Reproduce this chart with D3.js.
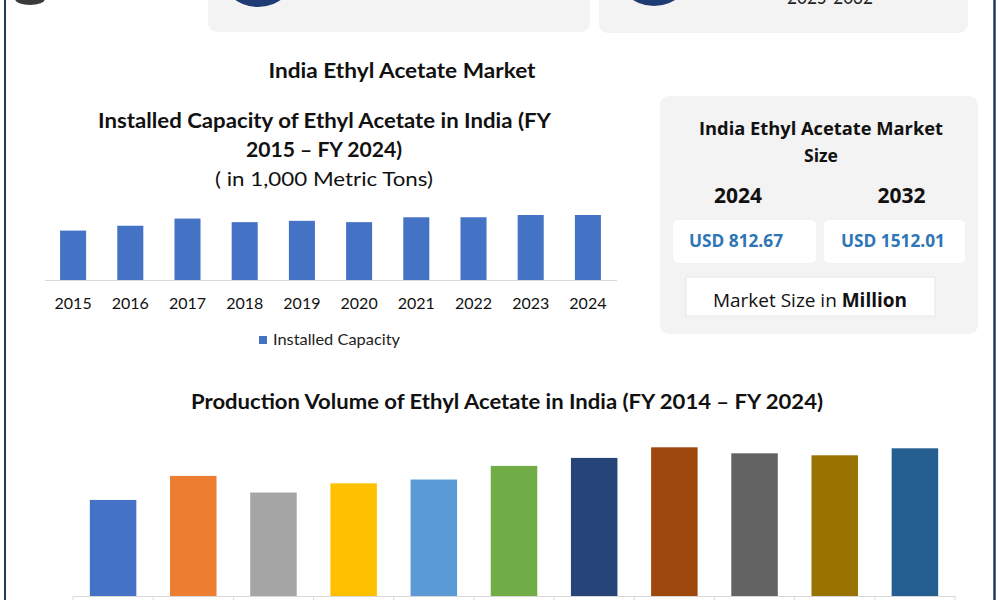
<!DOCTYPE html>
<html>
<head>
<script src="https://d3js.org/d3.v7.min.js"></script>
<style>
  body { margin: 0; background: #fff; }
  svg text { font-family: Lato, "Open Sans", sans-serif; fill: #111; }
</style>
</head>
<body>
<svg width="1000" height="600"></svg>
<script>

// installed capacity, 1,000 metric tons
const capYears = ["2015", "2016", "2017", "2018", "2019", "2020", "2021", "2022", "2023", "2024"];
const capValues = [760, 835, 945, 890, 910, 890, 965, 965, 1000, 1000];

// production volume (no axis in picture, relative heights)
const prodYears = ["2014", "2015", "2016", "2017", "2018", "2019", "2020", "2021", "2022", "2023", "2024"];
const prodValues = [480, 600, 517, 563, 582, 650, 690, 743, 713, 703, 738];
const prodColors = ["#4472c4", "#ed7d31", "#a5a5a5", "#ffc000", "#5b9bd5", "#70ad47",
                    "#264478", "#9e480e", "#636363", "#997300", "#255e91"];

const marketYears = ["2024", "2032"];
const marketValues = ["USD 812.67", "USD 1512.01"];

var svg = d3.select("svg");

function label(x, y, str, size, weight, len) {
  var t = svg.append("text")
      .attr("x", x)
      .attr("y", y)
      .attr("text-anchor", "middle")
      .style("font-size", size + "px")
      .style("font-weight", weight)
      .text(str);
  if (len) t.attr("textLength", len).attr("lengthAdjust", "spacingAndGlyphs");
  return t;
}

// header cards (cut off at top)
svg.append("rect").attr("x", 208).attr("y", -12).attr("width", 382).attr("height", 44)
    .attr("rx", 9).attr("fill", "#f3f3f3");
svg.append("rect").attr("x", 599).attr("y", -12).attr("width", 369).attr("height", 45)
    .attr("rx", 9).attr("fill", "#f3f3f3");
svg.append("circle").attr("cx", 258).attr("cy", -33).attr("r", 40).attr("fill", "#1f3b73");
svg.append("circle").attr("cx", 654).attr("cy", -34).attr("r", 40).attr("fill", "#1f3b73");
label(830, 4, "2025-2032", 20, 400, 86).style("fill", "#222");
svg.append("ellipse").attr("cx", 30).attr("cy", -1).attr("rx", 15).attr("ry", 6).attr("fill", "#3a3a3a");

// frame
svg.append("line").attr("x1", 5).attr("x2", 5).attr("y1", 0).attr("y2", 600)
    .attr("stroke", "#23395f").attr("stroke-width", 2);
svg.append("line").attr("x1", 994.5).attr("x2", 994.5).attr("y1", 0).attr("y2", 600)
    .attr("stroke", "#23395f").attr("stroke-width", 2.5);

label(402, 78, "India Ethyl Acetate Market", 20, 700, 267);

// ---- installed capacity chart ----
label(324.5, 128, "Installed Capacity of Ethyl Acetate in India (FY", 20, 700, 453);
label(324, 157, "2015 \u2013 FY 2024)", 20, 700, 156);
label(324, 186, "( in 1,000 Metric Tons)", 20, 400, 218);

var x1 = d3.scaleBand()
    .domain(capYears)
    .range([44.5, 616.5])
    .paddingInner(0.545)
    .paddingOuter(0.2725);

var y1 = d3.scaleLinear()
    .domain([0, d3.max(capValues)])
    .range([280, 215]);

svg.append("g").selectAll("rect")
    .data(capValues)
    .enter().append("rect")
      .attr("x", function(d, i) { return x1(capYears[i]); })
      .attr("y", function(d) { return y1(d); })
      .attr("width", x1.bandwidth())
      .attr("height", function(d) { return y1(0) - y1(d); })
      .attr("fill", "#4472c4");

var ax1 = svg.append("g")
    .attr("transform", "translate(0,280)")
    .call(d3.axisBottom(x1).tickSize(0).tickPadding(18));
ax1.select(".domain").attr("stroke", "#d9d9d9");
ax1.selectAll("text").style("font-size", "16px").style("font-family", "Lato, sans-serif").attr("fill", "#222");

svg.append("rect").attr("x", 259).attr("y", 336).attr("width", 8).attr("height", 8).attr("fill", "#4472c4");
svg.append("text").attr("x", 273).attr("y", 345)
    .attr("textLength", 127).attr("lengthAdjust", "spacingAndGlyphs")
    .style("font-size", "16px").style("fill", "#222")
    .text("Installed Capacity");

// ---- market size panel ----
svg.append("rect").attr("x", 660).attr("y", 96).attr("width", 318).attr("height", 238)
    .attr("rx", 9).attr("fill", "#f3f3f3");
label(821, 135, "India Ethyl Acetate Market", 18, 700, 244).style("font-family", "'Open Sans', sans-serif");
label(821, 162, "Size", 18, 700, 34).style("font-family", "'Open Sans', sans-serif");

var boxX = [673, 824], boxW = [143, 141], boxC = [736, 893], valLen = [94, 104], yrC = [738, 901.5];
marketYears.forEach(function(yr, i) {
  label(yrC[i], 203, yr, 21, 700, 48).style("font-family", "'Open Sans', sans-serif");
  svg.append("rect").attr("x", boxX[i]).attr("y", 220).attr("width", boxW[i]).attr("height", 43)
      .attr("rx", 5).attr("fill", "#fff");
  label(boxC[i], 247, marketValues[i], 18, 700, valLen[i])
      .style("font-family", "'Open Sans', sans-serif").style("fill", "#2e75b6");
});

svg.append("rect").attr("x", 686).attr("y", 277).attr("width", 249).attr("height", 39)
    .attr("fill", "#fff").attr("stroke", "#e6e6e6");
var ms = svg.append("text").attr("x", 810).attr("y", 307).attr("text-anchor", "middle")
    .attr("textLength", 194).attr("lengthAdjust", "spacingAndGlyphs")
    .style("font-size", "19px").style("font-family", "'Open Sans', sans-serif");
ms.append("tspan").text("Market Size in ");
ms.append("tspan").style("font-weight", 700).text("Million");

// ---- production volume chart ----
label(507, 409, "Production Volume of Ethyl Acetate in India (FY 2014 \u2013 FY 2024)", 20, 700, 632);

var x2 = d3.scaleBand()
    .domain(prodYears)
    .range([73, 955])
    .paddingInner(0.42)
    .paddingOuter(0.21);

var y2 = d3.scaleLinear()
    .domain([0, d3.max(prodValues)])
    .range([596, 447.3]);

svg.append("g").selectAll("rect")
    .data(prodValues)
    .enter().append("rect")
      .attr("x", function(d, i) { return x2(prodYears[i]); })
      .attr("y", function(d) { return y2(d); })
      .attr("width", x2.bandwidth())
      .attr("height", function(d) { return y2(0) - y2(d); })
      .attr("fill", function(d, i) { return prodColors[i]; });

// year labels sit below the visible area in the picture, so only the axis line shows
var ax2 = svg.append("g")
    .attr("transform", "translate(0,596)")
    .call(d3.axisBottom(x2).tickSize(0).tickFormat(""));
ax2.select(".domain").attr("stroke", "#d9d9d9");

// category boundary ticks
svg.append("g").selectAll("line")
    .data(d3.range(prodYears.length + 1))
    .enter().append("line")
      .attr("x1", function(i) { return x2.range()[0] + i * x2.step(); })
      .attr("x2", function(i) { return x2.range()[0] + i * x2.step(); })
      .attr("y1", 596)
      .attr("y2", 602)
      .attr("stroke", "#d9d9d9");

</script>
</body>
</html>
